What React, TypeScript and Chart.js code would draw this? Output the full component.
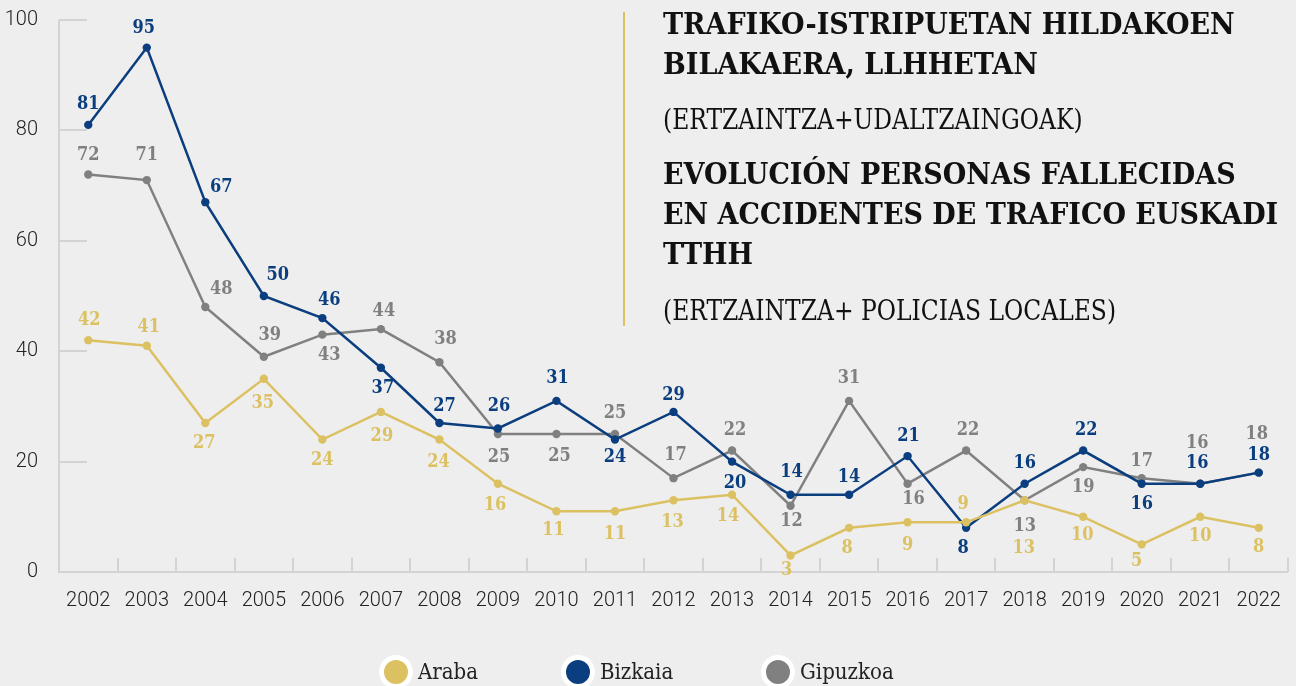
import React, { useEffect, useRef } from "react";
import { Chart, registerables } from "chart.js";

Chart.register(...registerables);

const years = ["2002","2003","2004","2005","2006","2007","2008","2009","2010","2011","2012","2013","2014","2015","2016","2017","2018","2019","2020","2021","2022"];
const araba = [42, 41, 27, 35, 24, 29, 24, 16, 11, 11, 13, 14, 3, 8, 9, 9, 13, 10, 5, 10, 8];
const bizkaia = [81, 95, 67, 50, 46, 37, 27, 26, 31, 24, 29, 20, 14, 14, 21, 8, 16, 22, 16, 16, 18];
const gipuzkoa = [72, 71, 48, 39, 43, 44, 38, 25, 25, 25, 17, 22, 12, 31, 16, 22, 13, 19, 17, 16, 18];
const yTicks = [0, 20, 40, 60, 80, 100];

// label placement offsets (px, relative to each point)
const arabaLabelOffsets = [[1,-20],[2,-18],[-1,20],[-1,25],[0,21],[1,24],[-1,23],[-3,22],[-3,19],[0,23],[-1,22],[-4,22],[-4,15],[-2,20],[0,23],[-3,-18],[-1,48],[-1,19],[-5,17],[0,20],[0,19]];
const bizkaiaLabelOffsets = [[0,-21],[-3,-19],[16,-15],[14,-21],[7,-18],[2,21],[5,-17],[1,-22],[1,-23],[0,18],[0,-17],[3,22],[1,-22],[0,-17],[1,-20],[-3,20],[0,-20],[3,-20],[0,21],[-3,-20],[0,-17]];
const gipuzkoaLabelOffsets = [[0,-19],[0,-25],[16,-18],[6,-21],[7,21],[3,-18],[6,-23],[1,23],[3,22],[0,-21],[2,-23],[3,-20],[1,16],[0,-23],[6,16],[2,-20],[0,26],[0,20],[0,-17],[-3,-40],[-2,-38]];

const COLORS = { araba: "#dcc163", bizkaia: "#0b3e7e", gipuzkoa: "#808080" };
const SLAB = "'DejaVu Serif Condensed', 'DejaVu Serif', serif";

const axisPlugin = {
  id: "inwardAxes",
  beforeDatasetsDraw(chart: any) {
    const { ctx, chartArea } = chart;
    const x = chart.scales.x;
    const y = chart.scales.y;
    ctx.save();
    ctx.strokeStyle = "#d3d3d3";
    ctx.lineWidth = 2;
    ctx.beginPath();
    ctx.moveTo(chartArea.left, chartArea.top);
    ctx.lineTo(chartArea.left, chartArea.bottom);
    ctx.lineTo(chartArea.right, chartArea.bottom);
    ctx.stroke();
    ctx.beginPath();
    yTicks.forEach((v) => {
      const py = Math.round(y.getPixelForValue(v));
      ctx.moveTo(chartArea.left, py);
      ctx.lineTo(chartArea.left + 28, py);
    });
    const n = years.length;
    for (let i = 1; i <= n; i++) {
      const px = i === n ? chartArea.right : (x.getPixelForValue(i - 1) + x.getPixelForValue(i)) / 2;
      ctx.moveTo(Math.round(px), chartArea.bottom);
      ctx.lineTo(Math.round(px), chartArea.bottom - 14);
    }
    ctx.stroke();
    ctx.restore();
  },
};

const labelPlugin = {
  id: "valueLabels",
  afterDatasetsDraw(chart: any) {
    const { ctx } = chart;
    const offsets = [arabaLabelOffsets, bizkaiaLabelOffsets, gipuzkoaLabelOffsets];
    ctx.save();
    ctx.font = `bold 18px ${SLAB}`;
    ctx.textAlign = "center";
    ctx.textBaseline = "middle";
    chart.data.datasets.forEach((ds: any, di: number) => {
      const meta = chart.getDatasetMeta(di);
      ctx.fillStyle = ds.borderColor;
      meta.data.forEach((pt: any, i: number) => {
        const [dx, dy] = offsets[di][i];
        ctx.fillText(String(ds.data[i]), pt.x + dx, pt.y + dy);
      });
    });
    ctx.restore();
  },
};

const legendItems = [
  { name: "Araba", color: COLORS.araba, left: 379 },
  { name: "Bizkaia", color: COLORS.bizkaia, left: 561 },
  { name: "Gipuzkoa", color: COLORS.gipuzkoa, left: 761 },
];

function Legend() {
  return (
    <>
      {legendItems.map((it) => (
        <div key={it.name} style={{ position: "absolute", left: it.left, top: 655, display: "flex", alignItems: "center" }}>
          <span style={{ width: 24, height: 24, borderRadius: "50%", background: it.color, border: "5px solid #fff", display: "inline-block" }} />
          <span style={{ marginLeft: 5, font: `22px ${SLAB}`, color: "#222", lineHeight: "34px", whiteSpace: "nowrap" }}>{it.name}</span>
        </div>
      ))}
    </>
  );
}

export default function App() {
  const ref = useRef<HTMLCanvasElement>(null);
  useEffect(() => {
    document.body.style.margin = "0";
    document.body.style.background = "#eeeeee";
    const chart = new Chart(ref.current!, {
      type: "line",
      data: {
        labels: years,
        datasets: [
          { label: "Araba", data: araba, borderColor: COLORS.araba, backgroundColor: COLORS.araba },
          { label: "Bizkaia", data: bizkaia, borderColor: COLORS.bizkaia, backgroundColor: COLORS.bizkaia },
          { label: "Gipuzkoa", data: gipuzkoa, borderColor: COLORS.gipuzkoa, backgroundColor: COLORS.gipuzkoa },
        ],
      },
      options: {
        animation: false,
        responsive: false,
        maintainAspectRatio: false,
        layout: { padding: { top: 20, right: 8, bottom: 64, left: 0 } },
        elements: {
          line: { borderWidth: 2.5, tension: 0 },
          point: { radius: 4.2, borderWidth: 0, hoverRadius: 4.2 },
        },
        plugins: { legend: { display: false }, tooltip: { enabled: false } },
        scales: {
          x: {
            type: "category",
            offset: true,
            grid: { display: false, drawTicks: false },
            border: { display: false },
            ticks: { color: "#222", font: { family: "Roboto", size: 20, weight: "300" as any }, padding: 17, maxRotation: 0, autoSkip: false },
            afterFit: (s: any) => { s.height = 50; s.paddingLeft = 0; s.paddingRight = 0; },
          },
          y: {
            min: 0,
            max: 100,
            grid: { display: false, drawTicks: false },
            border: { display: false },
            ticks: { stepSize: 20, color: "#222", font: { family: "Roboto", size: 20, weight: "300" as any }, padding: 21 },
            afterFit: (s: any) => { s.width = 59; s.paddingTop = 0; s.paddingBottom = 0; },
          },
        },
      },
      plugins: [axisPlugin, labelPlugin],
    });
    return () => chart.destroy();
  }, []);

  const bold = { font: `bold 30px ${SLAB}`, lineHeight: "40px", color: "#111", margin: 0, whiteSpace: "nowrap" as const };
  const reg = { font: `27px ${SLAB}`, lineHeight: "36px", color: "#111", margin: 0, whiteSpace: "nowrap" as const, transform: "scaleX(0.965)", transformOrigin: "left top" };

  return (
    <div style={{ position: "relative", width: 1296, height: 686, background: "#eeeeee", overflow: "hidden" }}>
      <canvas ref={ref} width={1296} height={686} style={{ display: "block" }} />
      <div style={{ position: "absolute", left: 623, top: 12, width: 2, height: 314, background: "#dcc163" }} />
      <div style={{ position: "absolute", left: 663, top: 4, ...bold }}>TRAFIKO-ISTRIPUETAN HILDAKOEN<br />BILAKAERA, LLHHETAN</div>
      <div style={{ position: "absolute", left: 663, top: 102, ...reg }}>(ERTZAINTZA+UDALTZAINGOAK)</div>
      <div style={{ position: "absolute", left: 663, top: 154, ...bold }}>EVOLUCIÓN PERSONAS FALLECIDAS<br />EN ACCIDENTES DE TRAFICO EUSKADI<br />TTHH</div>
      <div style={{ position: "absolute", left: 663, top: 293, ...reg }}>(ERTZAINTZA+ POLICIAS LOCALES)</div>
      <Legend />
    </div>
  );
}
